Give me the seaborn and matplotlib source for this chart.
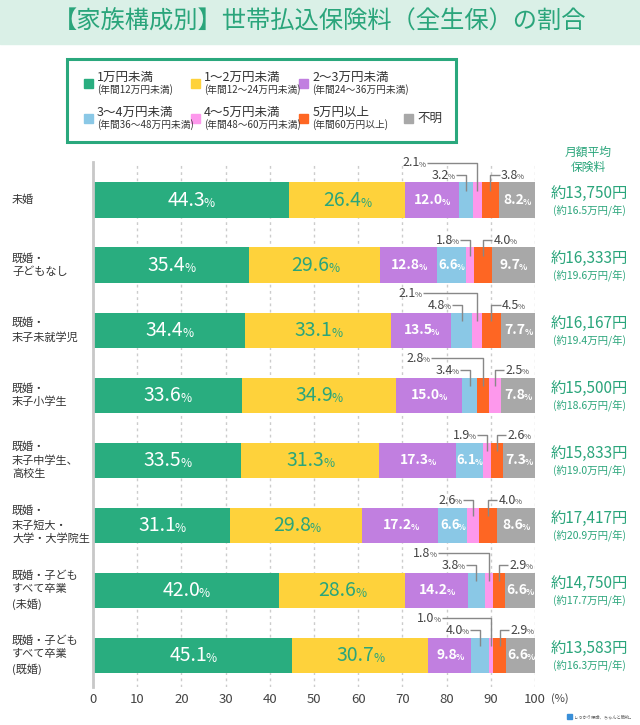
import matplotlib
matplotlib.use("Agg")
import matplotlib.pyplot as plt
from matplotlib import transforms
from matplotlib.patches import Rectangle
import numpy as np
import seaborn as sns

# ---- data ----
groups = [
    "未婚",
    "既婚・\n子どもなし",
    "既婚・\n末子未就学児",
    "既婚・\n末子小学生",
    "既婚・\n末子中学生、\n高校生",
    "既婚・\n末子短大・\n大学・大学院生",
    "既婚・子ども\nすべて卒業\n(未婚)",
    "既婚・子ども\nすべて卒業\n(既婚)",
]
categories = ["1万円未満", "1〜2万円未満", "2〜3万円未満", "3〜4万円未満",
              "4〜5万円未満", "5万円以上", "不明"]
cat_notes = ["(年間12万円未満)", "(年間12〜24万円未満)", "(年間24〜36万円未満)",
             "(年間36〜48万円未満)", "(年間48〜60万円未満)", "(年間60万円以上)", ""]

under_1 = [44.3, 35.4, 34.4, 33.6, 33.5, 31.1, 42.0, 45.1]
from_1_to_2 = [26.4, 29.6, 33.1, 34.9, 31.3, 29.8, 28.6, 30.7]
from_2_to_3 = [12.0, 12.8, 13.5, 15.0, 17.3, 17.2, 14.2, 9.8]
from_3_to_4 = [3.2, 6.6, 4.8, 3.4, 6.1, 6.6, 3.8, 4.0]
from_4_to_5 = [2.1, 1.8, 2.1, 2.5, 1.9, 2.6, 1.8, 1.0]
over_5 = [3.8, 4.0, 4.5, 2.8, 2.6, 4.0, 2.9, 2.9]
unknown = [8.2, 9.7, 7.7, 7.8, 7.3, 8.6, 6.6, 6.6]

monthly = ["約13,750円", "約16,333円", "約16,167円", "約15,500円",
           "約15,833円", "約17,417円", "約14,750円", "約13,583円"]
yearly = ["(約16.5万円/年)", "(約19.6万円/年)", "(約19.4万円/年)", "(約18.6万円/年)",
          "(約19.0万円/年)", "(約20.9万円/年)", "(約17.7万円/年)", "(約16.3万円/年)"]

# in this row the source draws 5万円以上 before 4〜5万円未満
swapped_rows = [3]

colors = ["#29ad7f", "#fed23b", "#c17fe0", "#8ac8e6", "#fd98ec", "#fe6623", "#a8a8a8"]
green_text = "#2aa57b"
dark = "#444444"

series = [under_1, from_1_to_2, from_2_to_3, from_3_to_4, from_4_to_5, over_5, unknown]
vals = np.array(series).T  # rows x categories

# ---- figure ----
sns.set_style("white")
plt.rcParams["font.family"] = ["Noto Sans CJK JP", "DejaVu Sans"]

W, H = 640, 725
fig = plt.figure(figsize=(6.4, 7.25), dpi=100)
ax = fig.add_axes([93 / W, 1 - 687 / H, (535 - 93) / W, (687 - 162) / H])

# title band
fig.patches.append(Rectangle((0, 1 - 44 / H), 1, 44 / H, transform=fig.transFigure,
                             color="#daf0e7", zorder=0))
fig.text(0.5, 1 - 22 / H, "【家族構成別】世帯払込保険料（全生保）の割合",
         ha="center", va="center", fontsize=17.5, color=green_text)

# per-row drawing order
orders = []
for i in range(len(groups)):
    o = list(range(7))
    if i in swapped_rows:
        o[4], o[5] = o[5], o[4]
    orders.append(o)

starts = np.zeros_like(vals)
for i, o in enumerate(orders):
    acc = 0.0
    for j in o:
        starts[i, j] = acc
        acc += vals[i, j]
ends = starts + vals

# stacked bars: draw cumulative totals from the longest to the shortest
for k in range(6, -1, -1):
    xk = [ends[i, orders[i][k]] for i in range(len(groups))]
    pal = {g: colors[orders[i][k]] for i, g in enumerate(groups)}
    sns.barplot(x=xk, y=groups, hue=groups, palette=pal, legend=False, orient="h",
                width=0.54, saturation=1, linewidth=0, ax=ax, zorder=2)


def pct_label(x, y, num, size, color, ha="center", weight="normal"):
    psize = size * 0.62
    wp = 0.75 * psize
    shift = {"center": -wp / 2, "right": -wp, "left": 0}[ha]
    tr = transforms.offset_copy(ax.transData, fig=fig, x=shift, y=0, units="points")
    t = ax.text(x, y, num, ha=ha, va="center", fontsize=size, color=color,
                fontweight=weight, transform=tr, zorder=6)
    ax.annotate("%", xy=(1, 0), xycoords=t, xytext=(-0.9, 0.3), textcoords="offset points",
                ha="left", va="bottom", fontsize=psize, color=color,
                fontweight=weight, zorder=6)


line_kw = dict(color="#888888", lw=1, zorder=5, solid_capstyle="butt")
L1, L2, LB = 0.385, 0.57, 0.14

for i in range(len(groups)):
    v = vals[i]
    c = (starts[i] + ends[i]) / 2
    pct_label(c[0], i, f"{v[0]:.1f}", 14, "white")
    pct_label(c[1], i, f"{v[1]:.1f}", 14, green_text)
    pct_label(c[2], i, f"{v[2]:.1f}", 10, "white", weight="bold")
    pct_label(c[6], i, f"{v[6]:.1f}", 10, "white", weight="bold")

    o = orders[i]
    j5, j6 = o[4], o[5]
    if v[3] >= 6:
        pct_label(c[3], i, f"{v[3]:.1f}", 9.5, "white", weight="bold")
        left_items = [(j5, L1, c[j5] - 2.5)]
    else:
        end1 = c[3] - 2.5
        left_items = [(3, L1, end1), (j5, L2, end1 - 6.5)]
    for j, lev, xe in left_items:
        pct_label(xe, i - lev, f"{v[j]:.1f}", 9, dark, ha="right")
        ax.plot([xe + 0.3, c[j], c[j]], [i - lev, i - lev, i - LB], **line_kw)
    xs = c[j6] + 2.4
    pct_label(xs, i - L1, f"{v[j6]:.1f}", 9, dark, ha="left")
    ax.plot([xs - 0.3, c[j6], c[j6]], [i - L1, i - L1, i - LB], **line_kw)

# axes styling
ax.set_xlim(0, 100)
ax.set_ylim(7.49, -0.585)
ax.set_xticks(range(0, 101, 10))
ax.set_yticks(range(len(groups)))
ax.set_yticklabels([""] * len(groups))
ax.set_xlabel("")
ax.set_ylabel("")
ax.tick_params(axis="x", length=0, pad=4, labelsize=9.5, labelcolor=dark)
ax.tick_params(axis="y", length=0)
for s in ["top", "right", "bottom"]:
    ax.spines[s].set_visible(False)
ax.spines["left"].set_color("#c8c8c8")
ax.spines["left"].set_linewidth(2)
ax.xaxis.grid(True, color="#cccccc", linestyle=(0, (2, 2.5)), lw=1)
ax.yaxis.grid(False)
ax.set_axisbelow(True)
ax.text(103.6, -0.012, "(%)", transform=transforms.blended_transform_factory(ax.transData, ax.transAxes),
        ha="left", va="top", fontsize=8, color=dark)

# group labels and monthly averages
fig_y = transforms.blended_transform_factory(fig.transFigure, ax.transData)
for i, g in enumerate(groups):
    ax.text(12 / W, i, g, transform=fig_y, ha="left", va="center", fontsize=8,
            color="#333333", linespacing=1.4)
    ax.text(589 / W, i - 0.1, monthly[i], transform=fig_y, ha="center", va="center",
            fontsize=11, color=green_text)
    ax.text(589 / W, i + 0.15, yearly[i], transform=fig_y, ha="center", va="center",
            fontsize=7.5, color=green_text)
fig.text(588 / W, 1 - 160 / H, "月額平均\n保険料", ha="center", va="center",
         fontsize=8.5, color=green_text, linespacing=1.2)

# legend box
fig.patches.append(Rectangle((67 / W, 1 - 142 / H), (456 - 67) / W, (142 - 59) / H,
                             transform=fig.transFigure, fill=False,
                             edgecolor="#2aa87d", lw=2.2, zorder=3))
sq_x = [88, 195, 303.5, 88, 195, 303.5, 408.5]
tx_x = [97, 204, 312.5, 97, 204, 312.5, 417]
row_y = [83.5, 83.5, 83.5, 118.5, 118.5, 118.5, 118.5]
for k, name in enumerate(categories):
    fig.patches.append(Rectangle(((sq_x[k] - 4.5) / W, 1 - (row_y[k] + 4.5) / H), 9 / W, 9 / H,
                                 transform=fig.transFigure, color=colors[k], zorder=3))
    if cat_notes[k]:
        fig.text(tx_x[k] / W, 1 - (row_y[k] - 6.5) / H, name, ha="left", va="center",
                 fontsize=9, color="#333333")
        fig.text(tx_x[k] / W, 1 - (row_y[k] + 6.5) / H, cat_notes[k], ha="left",
                 va="center", fontsize=7, color="#333333")
    else:
        fig.text(tx_x[k] / W, 1 - row_y[k] / H, name, ha="left", va="center",
                 fontsize=9, color="#333333")

# footer mark
fig.patches.append(Rectangle((567 / W, 1 - 719 / H), 5 / W, 5 / H, transform=fig.transFigure,
                             color="#3a8fd8", zorder=3))
fig.text(574 / W, 1 - 716.5 / H, "しっかり保険、ちゃんと節約。", ha="left", va="center",
         fontsize=3.1, color="#555555")

fig.savefig("out.png", dpi=100)
